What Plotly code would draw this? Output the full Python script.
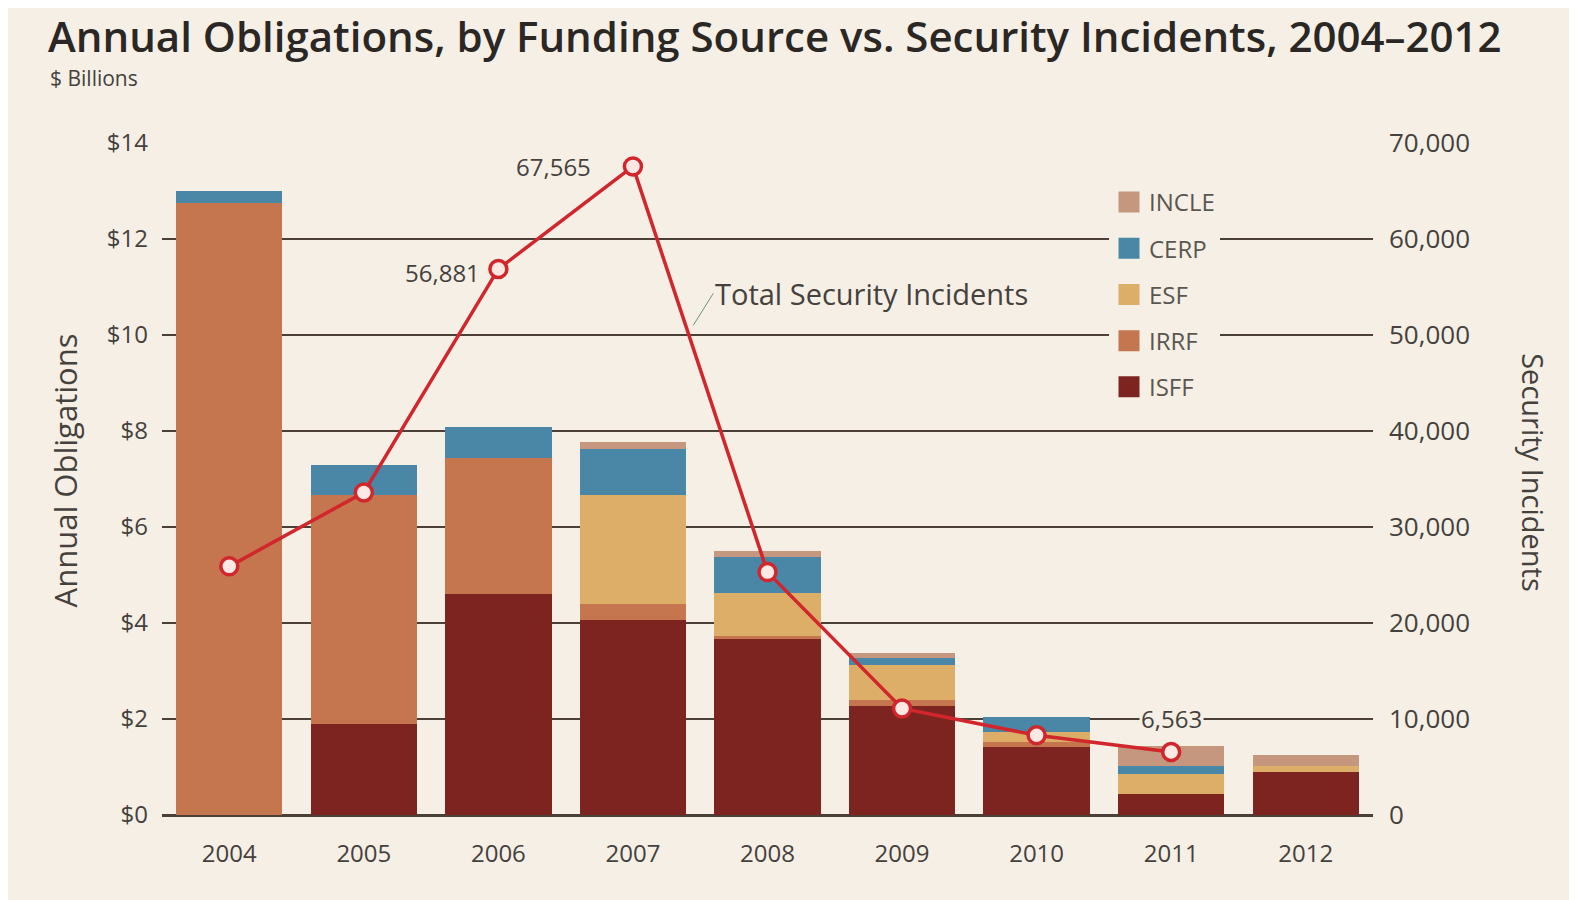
import plotly.graph_objects as go

# Data ($ billions and incident counts)
years = ['2004', '2005', '2006', '2007', '2008', '2009', '2010', '2011', '2012']
isff = [0.0, 1.89, 4.61, 4.07, 3.67, 2.28, 1.41, 0.44, 0.90]
irrf = [12.75, 4.78, 2.83, 0.33, 0.05, 0.12, 0.12, 0.0, 0.0]
esf = [0.0, 0.0, 0.0, 2.27, 0.90, 0.72, 0.20, 0.42, 0.12]
cerp = [0.25, 0.63, 0.65, 0.96, 0.76, 0.15, 0.31, 0.17, 0.0]
incle = [0.0, 0.0, 0.0, 0.15, 0.13, 0.10, 0.0, 0.40, 0.22]
incident_years = ['2004', '2005', '2006', '2007', '2008', '2009', '2010', '2011']
incidents = [25900, 33600, 56881, 67565, 25300, 11100, 8300, 6563]
labelled = ['2006', '2007', '2011']

left_ticks = [0, 2, 4, 6, 8, 10, 12, 14]
left_labels = ['$0', '$2', '$4', '$6', '$8', '$10', '$12', '$14']
right_ticks = [0, 10000, 20000, 30000, 40000, 50000, 60000, 70000]
right_labels = ['0', '10,000', '20,000', '30,000', '40,000', '50,000', '60,000', '70,000']

series = [
    ('ISFF', isff, '#7e2420'),
    ('IRRF', irrf, '#c5764f'),
    ('ESF', esf, '#dcae68'),
    ('CERP', cerp, '#4a87a6'),
    ('INCLE', incle, '#c6977f'),
]

bg = '#f5efe6'
txt = '#45413d'
font = 'Open Sans'

fig = go.Figure()

for name, vals, col in series:
    fig.add_trace(go.Bar(x=years, y=vals, name=name, marker_color=col,
                         marker_line_width=0, width=0.79, showlegend=False))

# legend entries (square swatches), INCLE listed first
for name, vals, col in reversed(series):
    fig.add_trace(go.Scatter(x=[None], y=[None], mode='markers', name=name,
                             legendgroup=name,
                             marker=dict(symbol='square', size=16, color=col,
                                         line=dict(color=col, width=5))))

fig.add_trace(go.Scatter(x=incident_years, y=incidents, yaxis='y2', mode='lines+markers',
                         line=dict(color='#d0262c', width=3.5),
                         marker=dict(size=17, color='#fde8e4',
                                     line=dict(color='#d0262c', width=3.5)),
                         showlegend=False))

fig.update_layout(
    width=1577, height=900,
    paper_bgcolor=bg, plot_bgcolor=bg,
    barmode='stack',
    margin=dict(l=154, r=212, t=135, b=93),
    font=dict(family=font, color=txt, size=24),
    title=dict(text='Annual Obligations, by Funding Source vs. Security Incidents, 2004\u20132012',
               x=0.0254, xanchor='left', y=0.968, yanchor='middle',
               font=dict(size=42, color='#2a2725', family=font, weight=600)),
    xaxis=dict(type='category', range=[-0.5, 8.5], showgrid=False, ticks='',
               tickfont=dict(size=24, color=txt), showline=False, zeroline=False,
               ticklabelstandoff=22),
    yaxis=dict(range=[0, 14], tickvals=left_ticks, ticktext=left_labels,
               showgrid=True, gridcolor='#4a4038', gridwidth=2,
               zeroline=True, zerolinecolor='#4a4038', zerolinewidth=3,
               tickfont=dict(size=24, color=txt), ticklabelstandoff=13),
    yaxis2=dict(range=[0, 70000], tickvals=right_ticks, ticktext=right_labels,
                overlaying='y', side='right', showgrid=False, zeroline=False,
                tickfont=dict(size=26, color=txt), ticklabelstandoff=15),
    legend=dict(x=0.782, y=0.945, xanchor='left', yanchor='top',
                bgcolor=bg, font=dict(size=24, color='#5a5650'),
                tracegroupgap=12, traceorder='grouped',
                itemwidth=30),
    showlegend=True,
)

fig.add_annotation(xref='paper', yref='paper', x=-0.094, y=1.0967, xanchor='left',
                   yanchor='middle', text='$ Billions', showarrow=False,
                   font=dict(size=21, color=txt))
fig.add_annotation(xref='paper', yref='paper', x=-0.080, y=0.513, textangle=-90,
                   xanchor='center', yanchor='middle',
                   text='Annual Obligations', showarrow=False,
                   font=dict(size=31, color=txt))
fig.add_annotation(xref='paper', yref='paper', x=1.133, y=0.51, textangle=90,
                   xanchor='center', yanchor='middle',
                   text='Security Incidents', showarrow=False,
                   font=dict(size=29, color=txt))

# value labels on the incident line
shifts = {'2006': (-16, -4, 'right'), '2007': (-40, 0, 'right'), '2011': (0, 34, 'center')}
for yr in labelled:
    i = incident_years.index(yr)
    dx, dy, anchor = shifts[yr]
    fig.add_annotation(x=years.index(yr), y=incidents[i], xref='x', yref='y2',
                       text=f'{incidents[i]:,}', showarrow=False,
                       xanchor=anchor, xshift=dx, yshift=dy,
                       bgcolor=bg if anchor == 'center' else 'rgba(0,0,0,0)',
                       font=dict(size=24, color=txt))

fig.add_annotation(x=3.448, y=51000, xref='x', yref='y2', text='Total Security Incidents',
                   showarrow=True, arrowhead=0, arrowwidth=1, arrowcolor='#6f8f80',
                   ax=20, ay=-32, xanchor='left', yanchor='middle',
                   font=dict(size=29, color=txt))

fig.write_html('out.html')
